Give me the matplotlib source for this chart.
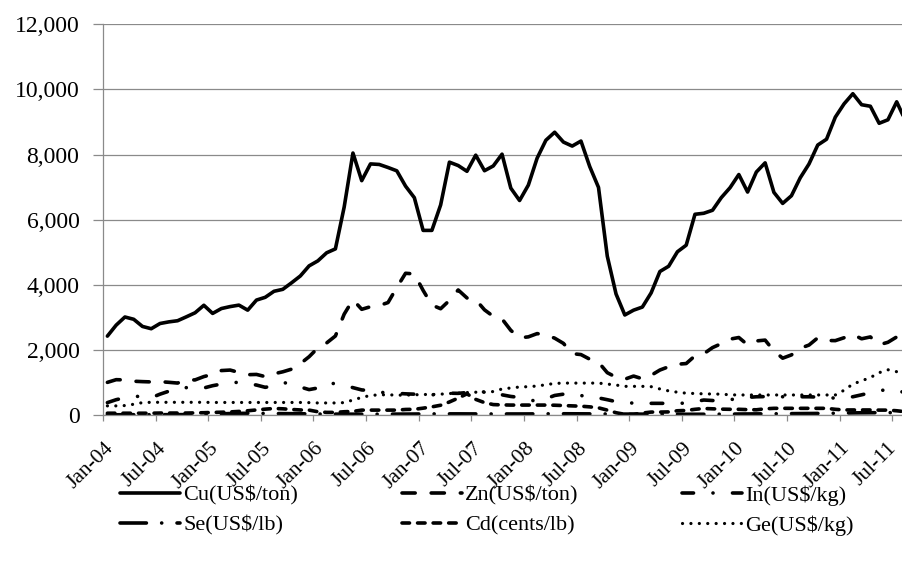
import matplotlib
matplotlib.use("Agg")
import matplotlib.pyplot as plt
from matplotlib.ticker import FuncFormatter
import numpy as np

plt.rcParams["font.family"] = ["Liberation Serif", "DejaVu Serif"]
plt.rcParams["lines.scale_dashes"] = False

# Monthly prices, Jan-2004 .. Aug-2011
cu = [2423, 2760, 3010, 2940, 2720, 2650, 2810, 2860, 2895, 3015, 3140, 3370,
      3120, 3270, 3330, 3375, 3220, 3530, 3615, 3800, 3860, 4060, 4270, 4580,
      4734, 4982, 5102, 6387, 8046, 7198, 7712, 7695, 7602, 7500, 7029, 6675,
      5670, 5670, 6452, 7766, 7662, 7485, 7981, 7503, 7649, 8011, 6968, 6588,
      7061, 7888, 8439, 8685, 8383, 8260, 8414, 7630, 6990, 4880, 3717, 3072,
      3220, 3315, 3750, 4407, 4569, 5014, 5216, 6165, 6196, 6288, 6676, 6982,
      7386, 6848, 7463, 7745, 6838, 6499, 6735, 7284, 7709, 8292, 8470, 9147,
      9556, 9868, 9530, 9483, 8960, 9067, 9619, 9040]
zn = [1002, 1085, 1078, 1037, 1025, 1016, 1024, 1004, 981, 1075, 1078, 1180,
      1247, 1365, 1380, 1307, 1238, 1246, 1179, 1266, 1327, 1408, 1576, 1790,
      2061, 2213, 2427, 3097, 3542, 3246, 3326, 3363, 3453, 3916, 4353, 4333,
      3828, 3377, 3264, 3520, 3840, 3595, 3543, 3230, 3030, 2950, 2600, 2370,
      2400, 2500, 2460, 2360, 2200, 1885, 1856, 1714, 1620, 1300, 1160, 1100,
      1196, 1112, 1219, 1381, 1483, 1560, 1580, 1818, 1880, 2070, 2192, 2330,
      2380, 2156, 2275, 2300, 1966, 1745, 1846, 2050, 2148, 2371, 2289, 2284,
      2373, 2473, 2341, 2398, 2157, 2233, 2397, 2200]
indium = [380, 470, 530, 580, 560, 530, 640, 730, 820, 840, 820, 830,
          900, 950, 1000, 1000, 960, 920, 850, 900, 1000, 950, 860, 780,
          830, 990, 960, 920, 840, 770, 750, 700, 680, 665, 650, 640,
          630, 615, 660, 670, 665, 690, 700, 710, 715, 620, 570, 540,
          470, 420, 500, 600, 640, 665, 600, 535, 525, 470, 410, 380,
          365, 360, 358, 358, 358, 358, 365, 410, 460, 445, 430, 470,
          510, 540, 560, 565, 560, 560, 560, 560, 560, 550, 530, 520,
          540, 560, 620, 685, 740, 790, 730, 700]
se = [6, 7, 8, 9, 10, 10, 10, 10, 11, 12, 14, 18,
      25, 35, 45, 50, 52, 50, 48, 45, 42, 40, 38, 35,
      30, 28, 27, 26, 25, 25, 25, 25, 26, 27, 28, 30,
      32, 34, 35, 35, 35, 34, 33, 32, 32, 32, 32, 32,
      33, 35, 37, 38, 38, 37, 36, 35, 34, 32, 30, 28,
      27, 26, 25, 24, 23, 23, 22, 22, 23, 24, 25, 27,
      30, 32, 34, 36, 38, 40, 42, 44, 46, 48, 50, 55,
      60, 65, 68, 70, 72, 73, 74, 75]
cd = [55, 55, 55, 55, 55, 55, 60, 60, 60, 60, 65, 70,
      80, 85, 95, 110, 130, 155, 180, 200, 190, 170, 155, 150,
      100, 80, 80, 100, 110, 150, 150, 150, 150, 150, 170, 175,
      210, 250, 300, 400, 520, 650, 480, 380, 320, 310, 305, 305,
      305, 305, 305, 300, 290, 280, 270, 250, 220, 150, 70, 20,
      20, 60, 90, 90, 95, 130, 140, 175, 200, 190, 180, 175,
      175, 165, 160, 190, 205, 205, 205, 205, 205, 205, 205, 175,
      155, 155, 155, 155, 150, 150, 130, 100]
ge = [280, 280, 290, 330, 380, 390, 390, 390, 390, 390, 390, 390,
      385, 385, 385, 385, 385, 385, 385, 385, 385, 385, 385, 380,
      370, 370, 370, 380, 460, 540, 600, 620, 620, 610, 610, 620,
      630, 630, 640, 660, 670, 690, 700, 700, 720, 800, 830, 860,
      870, 890, 930, 970, 980, 980, 980, 980, 980, 950, 920, 880,
      880, 880, 870, 800, 740, 700, 670, 660, 650, 645, 640, 620,
      615, 615, 615, 615, 615, 615, 615, 615, 615, 615, 615, 615,
      760, 950, 1050, 1150, 1300, 1390, 1330, 1280]

tick_labels = ["Jan-04", "Jul-04", "Jan-05", "Jul-05", "Jan-06", "Jul-06",
               "Jan-07", "Jul-07", "Jan-08", "Jul-08", "Jan-09", "Jul-09",
               "Jan-10", "Jul-10", "Jan-11", "Jul-11"]

x = np.arange(len(cu))

fig = plt.figure(figsize=(9.03, 5.65), dpi=100)
ax = fig.add_axes([103 / 903, 1 - 415 / 565, 800 / 903, (415 - 24.3) / 565])

lw = 2.6
common = dict(color="black", lw=lw, solid_joinstyle="round",
              dash_capstyle="round", dash_joinstyle="round")
h_cu, = ax.plot(x, cu, label="Cu(US$/ton)", solid_capstyle="round", **common)
h_zn, = ax.plot(x, zn, label="Zn(US$/ton)", dashes=(9.5, 11.5), **common)
h_in, = ax.plot(x, indium, label="In(US$/kg)",
                dashes=(8.3, 14.0, 0.05, 14.0), **common)
h_se, = ax.plot(x, se, label="Se(US$/lb)",
                dashes=(19.0, 11.0, 0.05, 11.0), **common)
h_cd, = ax.plot(x, cd, label="Cd(cents/lb)", dashes=(5.4, 5.8), **common)
h_ge, = ax.plot(x, ge, label="Ge(US$/kg)", color="black", lw=2.3,
                dashes=(0.05, 6.0), dash_capstyle="round")

grid_c = "#8a8a8a"
ax.set_ylim(0, 12000)
ax.set_yticks(np.arange(0, 12001, 2000))
ax.yaxis.set_major_formatter(FuncFormatter(lambda v, p: f"{int(v):,}"))
ax.set_xlim(-0.5, -0.5 + 800 / 8.77)

# month labels sit on the categories, tick marks on the category boundaries
label_pos = np.arange(0, len(cu), 6)[:len(tick_labels)] - 0.4
label_pos[-1] -= 0.7  # keep the last label inside the figure
bounds = np.arange(-0.5, len(cu), 6)
ax.set_xticks(label_pos)
ax.set_xticklabels(tick_labels, rotation=45, ha="right", va="top",
                   rotation_mode="anchor", fontsize=15.5)
ax.set_xticks(bounds, minor=True)
ax.tick_params(axis="x", which="major", length=0, pad=17)
ax.tick_params(axis="x", which="minor", length=4, width=0.9, color=grid_c,
               direction="out")
ax.tick_params(axis="y", length=7, width=0.9, color=grid_c, labelsize=17,
               pad=10)

ax.grid(axis="y", color=grid_c, lw=0.9)
ax.set_axisbelow(True)
for side in ("top", "right"):
    ax.spines[side].set_visible(False)
for side in ("left", "bottom"):
    ax.spines[side].set_color(grid_c)
    ax.spines[side].set_linewidth(0.9)

handles = [h_cu, h_se, h_zn, h_cd, h_in, h_ge]
fig.legend(handles=handles, labels=[h.get_label() for h in handles],
           ncol=3, loc="upper left", bbox_to_anchor=(120 / 903, 1 - 485 / 565),
           frameon=False, fontsize=16, handlelength=2.7, handletextpad=0.15,
           columnspacing=4.65, labelspacing=0.44, borderpad=0, borderaxespad=0)

fig.savefig("out.png", dpi=100)
